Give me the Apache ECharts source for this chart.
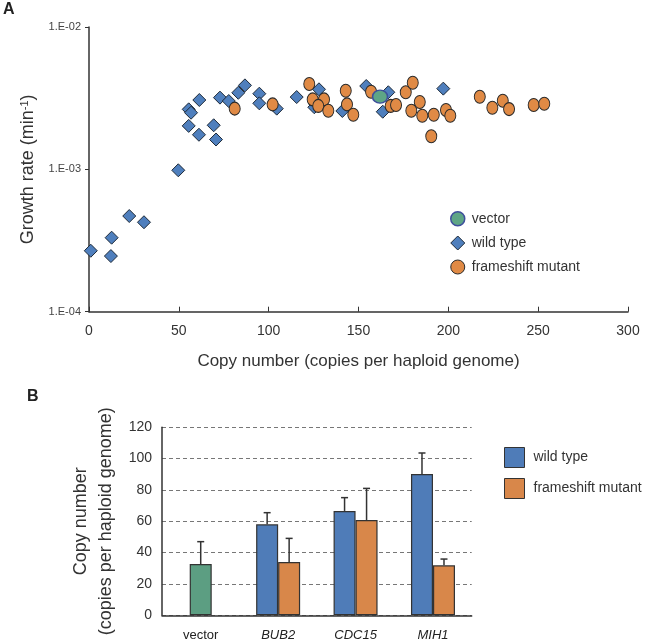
<!DOCTYPE html>
<html>
<head>
<meta charset="utf-8">
<script src="https://cdn.jsdelivr.net/npm/echarts@6/dist/echarts.min.js"></script>
<style>
html,body{margin:0;padding:0;background:#fff;}
#chart{width:645px;height:643px;}
</style>
</head>
<body>
<div id="chart"></div>
<script>
// ---------- Panel A data: [copy number, growth rate] ----------
const wildTypeA = [
  [1, 2.68e-4], [12.6, 3.31e-4], [12.2, 2.46e-4], [22.4, 4.70e-4], [30.6, 4.25e-4],
  [49.7, 9.85e-4], [55.5, 2.64e-3], [56.8, 2.50e-3], [55.5, 2.02e-3], [61.4, 3.07e-3],
  [61.2, 1.75e-3], [69.4, 2.04e-3], [70.7, 1.62e-3], [72.9, 3.19e-3], [77.8, 3.02e-3],
  [83.1, 3.45e-3], [86.8, 3.89e-3], [94.8, 3.40e-3], [94.8, 2.91e-3], [104.5, 2.67e-3],
  [115.6, 3.22e-3], [128.0, 3.65e-3], [125.4, 2.73e-3], [141.0, 2.57e-3], [154.3, 3.85e-3],
  [166.6, 3.48e-3], [163.5, 2.54e-3], [197.2, 3.69e-3]
];
const frameshiftA = [
  [81.1, 2.67e-3], [102.2, 2.86e-3], [122.6, 3.98e-3], [124.5, 3.10e-3], [130.8, 3.10e-3],
  [127.6, 2.79e-3], [133.2, 2.58e-3], [142.9, 3.57e-3], [143.6, 2.86e-3], [147.1, 2.42e-3],
  [157.0, 3.51e-3], [167.9, 2.79e-3], [170.9, 2.83e-3], [176.3, 3.48e-3], [180.2, 4.06e-3],
  [179.4, 2.58e-3], [184.1, 2.97e-3], [185.5, 2.38e-3], [191.9, 2.42e-3], [190.5, 1.71e-3],
  [198.7, 2.61e-3], [201.1, 2.38e-3], [217.5, 3.24e-3], [224.5, 2.71e-3], [230.3, 3.03e-3],
  [233.8, 2.65e-3], [247.5, 2.83e-3], [253.4, 2.89e-3]
];
const vectorA = [[162.0, 3.24e-3]];
const yTickLabelsA = {'-4': '1.E-04', '-3': '1.E-03', '-2': '1.E-02'};

// ---------- Panel B data ----------
const categoriesB = ['vector', 'BUB2', 'CDC15', 'MIH1'];
const italicB = [false, true, true, true];
const vectorMeanB = [32.7, null, null, null];
const vectorSdB = [14.3, null, null, null];
const wildMeanB = [null, 58.1, 66.6, 90.2];
const wildSdB = [null, 7.4, 8.5, 13.4];
const frameMeanB = [null, 34.0, 60.8, 31.9];
const frameSdB = [null, 15.1, 20.2, 4.0];

const FONT = '"Liberation Sans", Arial, Helvetica, sans-serif';
const BLUE = '#4f7fbd', ORANGE = '#e08a45', GREEN = '#5ea586';
const BAR_BLUE = '#4f7cb8', BAR_ORANGE = '#d8874a', BAR_GREEN = '#5c9e82';
const AXIS = '#333';
const BAR_W = 22;

function errSeries(name, xIdx, means, sds, offset) {
  const data = [];
  means.forEach((m, i) => { if (m != null) data.push([i, m, m + sds[i]]); });
  return {
    type: 'custom', name: name + '_err', xAxisIndex: xIdx, yAxisIndex: 1, z: 5,
    silent: true,
    data: data,
    renderItem: function (params, api) {
      const p0 = api.coord([api.value(0), api.value(1)]);
      const p1 = api.coord([api.value(0), api.value(2)]);
      const x = p0[0] + offset;
      return {
        type: 'group',
        children: [
          {type: 'line', shape: {x1: x, y1: p0[1], x2: x, y2: p1[1]}, style: {stroke: AXIS, lineWidth: 1.5}},
          {type: 'line', shape: {x1: x - 3.5, y1: p1[1], x2: x + 3.5, y2: p1[1]}, style: {stroke: AXIS, lineWidth: 1.5}}
        ]
      };
    }
  };
}

const chart = echarts.init(document.getElementById('chart'), null, {renderer: 'canvas'});
chart.setOption({
  animation: false,
  textStyle: {fontFamily: FONT},
  graphic: [
    {type: 'text', left: 3, top: 2, style: {text: 'A', font: 'bold 16px ' + FONT, fill: '#222'}},
    {type: 'text', left: 27, top: 389, style: {text: 'B', font: 'bold 16px ' + FONT, fill: '#222'}}
  ],
  grid: [
    {left: 89, right: 17, top: 27, height: 284.7},
    {left: 162, right: 173.3, top: 427.3, height: 188}
  ],
  legend: [
    {
      orient: 'vertical', left: 445, top: 206, itemGap: 9, itemWidth: 14, itemHeight: 14,
      textStyle: {fontSize: 14, color: '#333', fontFamily: FONT, padding: [0, 0, 0, 2]},
      data: [
        {name: 'vector', icon: 'circle', itemStyle: {color: GREEN, borderColor: '#3e4f9c', borderWidth: 1.5}},
        {name: 'wild type', icon: 'diamond', itemStyle: {color: BLUE, borderColor: '#1e2a38', borderWidth: 1}},
        {name: 'frameshift mutant', icon: 'circle', itemStyle: {color: ORANGE, borderColor: '#2a2a2a', borderWidth: 1}}
      ],
      selectedMode: false
    },
    {
      orient: 'vertical', left: 499, top: 442, itemGap: 10, itemWidth: 20, itemHeight: 20,
      textStyle: {fontSize: 14, color: '#333', fontFamily: FONT, padding: [0, 0, 0, 4]},
      data: [
        {name: 'wild type', icon: 'rect', itemStyle: {color: BAR_BLUE, borderColor: '#333', borderWidth: 1}},
        {name: 'frameshift mutant', icon: 'rect', itemStyle: {color: BAR_ORANGE, borderColor: '#333', borderWidth: 1}}
      ],
      selectedMode: false
    }
  ],
  xAxis: [
    {
      gridIndex: 0, type: 'value', min: 0, max: 300, interval: 50,
      axisLine: {lineStyle: {color: AXIS, width: 1.5}},
      axisTick: {inside: true, length: 5, lineStyle: {color: AXIS}},
      axisLabel: {fontSize: 14, color: '#333', margin: 12},
      splitLine: {show: false},
      name: 'Copy number (copies per haploid genome)', nameLocation: 'middle', nameGap: 41,
      nameTextStyle: {fontSize: 17, color: '#333'}
    },
    {
      gridIndex: 1, type: 'category', data: categoriesB,
      axisLine: {lineStyle: {color: AXIS, width: 1.5}},
      axisTick: {inside: true, length: 5, lineStyle: {color: AXIS}},
      axisLabel: {
        interval: 0, fontSize: 13, color: '#222', margin: 14,
        formatter: function (v, i) { return italicB[i] ? '{it|' + v + '}' : v; },
        rich: {it: {fontStyle: 'italic', fontSize: 13, color: '#222'}}
      }
    },
    {
      gridIndex: 1, type: 'category', data: categoriesB, show: false
    }
  ],
  yAxis: [
    {
      gridIndex: 0, type: 'log', logBase: 10, min: 1e-4, max: 1e-2,
      axisLine: {show: true, lineStyle: {color: AXIS, width: 1.5}},
      axisTick: {show: true, inside: false, length: 4, lineStyle: {color: AXIS}},
      axisLabel: {
        fontSize: 11, color: '#444', margin: 8,
        formatter: function (v) { return yTickLabelsA[String(Math.round(Math.log10(v)))] || ''; }
      },
      splitLine: {show: false},
      minorTick: {show: false},
      name: 'Growth rate (min{sup|-1})', nameLocation: 'middle', nameGap: 52, nameRotate: 90,
      nameTextStyle: {
        fontSize: 18, color: '#333',
        rich: {sup: {fontSize: 11, color: '#333', verticalAlign: 'top', lineHeight: 18}}
      }
    },
    {
      gridIndex: 1, type: 'value', min: 0, max: 120, interval: 20,
      axisLine: {show: true, lineStyle: {color: AXIS, width: 1.5}},
      axisTick: {show: false},
      axisLabel: {fontSize: 14, color: '#333', margin: 10},
      splitLine: {show: true, lineStyle: {color: '#777', type: [4, 3], width: 1}},
      name: 'Copy number\n(copies per haploid genome)', nameLocation: 'middle', nameGap: 43, nameRotate: 90,
      nameTextStyle: {fontSize: 18, color: '#333', lineHeight: 25}
    }
  ],
  series: [
    {
      name: 'wild type', type: 'scatter', xAxisIndex: 0, yAxisIndex: 0,
      symbol: 'diamond', symbolSize: [13, 13], data: wildTypeA,
      itemStyle: {color: BLUE, borderColor: '#1e2a38', borderWidth: 1, opacity: 1}, z: 2
    },
    {
      name: 'frameshift mutant', type: 'scatter', xAxisIndex: 0, yAxisIndex: 0,
      symbol: 'circle', symbolSize: [11, 13], data: frameshiftA,
      itemStyle: {color: ORANGE, borderColor: '#2a2a2a', borderWidth: 1, opacity: 1}, z: 3
    },
    {
      name: 'vector', type: 'scatter', xAxisIndex: 0, yAxisIndex: 0,
      symbol: 'circle', symbolSize: [15, 13], data: vectorA,
      itemStyle: {color: GREEN, borderColor: '#3e4f9c', borderWidth: 1.5, opacity: 1}, z: 4
    },
    {
      name: 'wild type', type: 'bar', xAxisIndex: 1, yAxisIndex: 1, data: wildMeanB,
      barWidth: BAR_W, barGap: '0%',
      itemStyle: {color: BAR_BLUE, borderColor: '#333', borderWidth: 1.2}
    },
    {
      name: 'frameshift mutant', type: 'bar', xAxisIndex: 1, yAxisIndex: 1, data: frameMeanB,
      barWidth: BAR_W, barGap: '0%',
      itemStyle: {color: BAR_ORANGE, borderColor: '#333', borderWidth: 1.2}
    },
    {
      name: 'vector bar', type: 'bar', xAxisIndex: 2, yAxisIndex: 1, data: vectorMeanB,
      barWidth: BAR_W,
      itemStyle: {color: BAR_GREEN, borderColor: '#333', borderWidth: 1.2}
    },
    errSeries('vector', 2, vectorMeanB, vectorSdB, 0),
    errSeries('wild', 1, wildMeanB, wildSdB, -BAR_W / 2),
    errSeries('frame', 1, frameMeanB, frameSdB, BAR_W / 2)
  ]
});
</script>
</body>
</html>
